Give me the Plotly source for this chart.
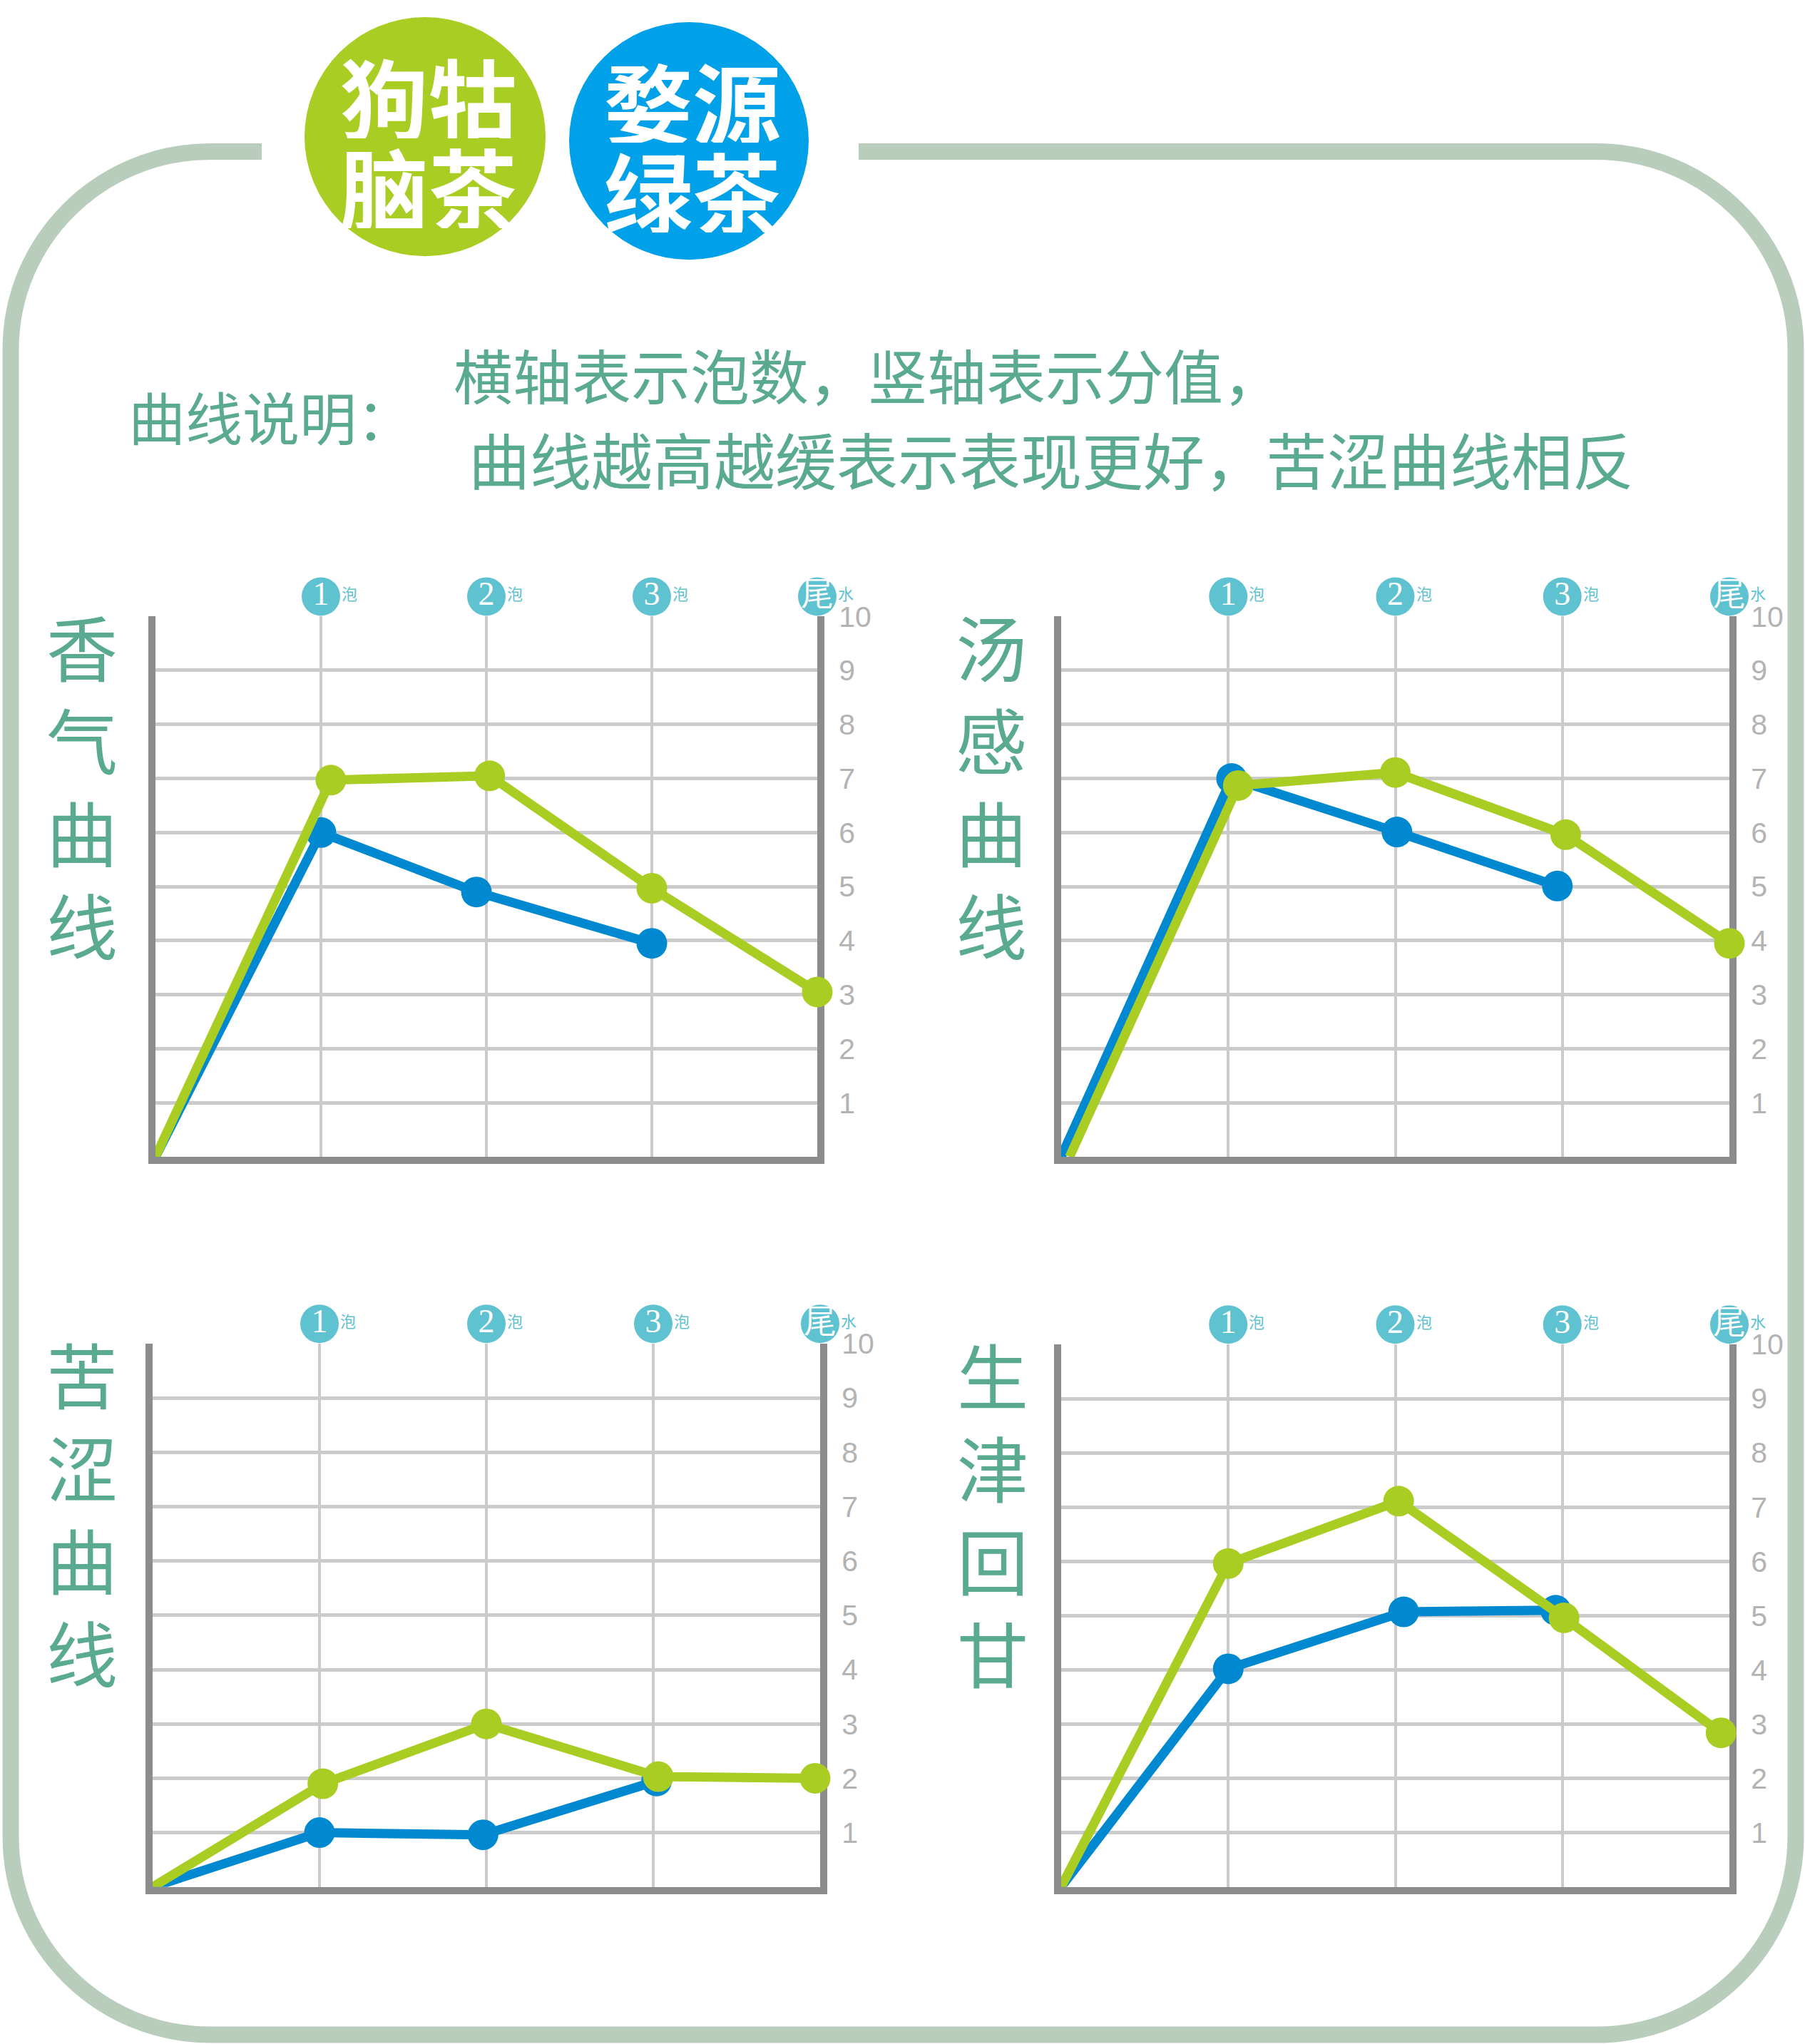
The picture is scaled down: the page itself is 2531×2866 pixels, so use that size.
import plotly.graph_objects as go

W, H = 2531, 2866

BLUE = '#0089d1'
GREEN = '#aacd23'
TEAL = '#5aaa92'
ROUND_BG = '#5fc2d1'
GRID = '#cbcbcb'
AXIS = '#8c8c8c'
BORDER = '#b9cdbd'

# header badges
BADGE_GREEN = ['狗牯', '脑茶']
BADGE_BLUE = ['婺源', '绿茶']

NOTE_LABEL = '曲线说明：'
NOTE_LINES = ['横轴表示泡数，竖轴表示分值，', '曲线越高越缓表示表现更好，苦涩曲线相反']

ROUNDS = ['1', '2', '3', '尾']
ROUND_X = [1, 2, 3, 4]
ROUND_SUFFIX = ['泡', '泡', '泡', '水']
Y_TICKS = [1, 2, 3, 4, 5, 6, 7, 8, 9, 10]

# 香气曲线
AROMA_X_BLUE = [0, 1, 1.94, 3]
AROMA_BLUE = [0, 6.0, 4.9, 3.95]
AROMA_X_GREEN = [0, 1.06, 2.02, 3, 4]
AROMA_GREEN = [0, 6.97, 7.05, 4.97, 3.05]

# 汤感曲线
SOUP_X_BLUE = [0, 1.02, 2.01, 2.97]
SOUP_BLUE = [0, 7.0, 6.01, 5.01]
SOUP_X_GREEN = [0.05, 1.06, 2.0, 3.02, 4]
SOUP_GREEN = [0, 6.87, 7.11, 5.96, 3.95]

# 苦涩曲线
BITTER_X_BLUE = [0, 1, 1.98, 3.02]
BITTER_BLUE = [0, 1.0, 0.96, 1.95]
BITTER_X_GREEN = [0, 1.02, 2.0, 3.03, 3.97]
BITTER_GREEN = [0, 1.9, 3.0, 2.03, 2.0]

# 生津回甘
SWEET_X_BLUE = [0, 1, 2.05, 2.96]
SWEET_BLUE = [0, 4.02, 5.07, 5.1]
SWEET_X_GREEN = [0, 1, 2.02, 3.01, 3.95]
SWEET_GREEN = [0, 5.96, 7.11, 4.96, 2.84]


def px(x):
    return x / W


def py(y):
    return 1 - y / H


# panel boxes in pixels: left, right, top, bottom
panels = [
    dict(title='香气曲线', box=(218, 1146, 848, 1612), title_x=115,
         xb=AROMA_X_BLUE, yb=AROMA_BLUE, xg=AROMA_X_GREEN, yg=AROMA_GREEN),
    dict(title='汤感曲线', box=(1488, 2425, 848, 1612), title_x=1390,
         xb=SOUP_X_BLUE, yb=SOUP_BLUE, xg=SOUP_X_GREEN, yg=SOUP_GREEN),
    dict(title='苦涩曲线', box=(214, 1150, 1876, 2644), title_x=115,
         xb=BITTER_X_BLUE, yb=BITTER_BLUE, xg=BITTER_X_GREEN, yg=BITTER_GREEN),
    dict(title='生津回甘', box=(1488, 2425, 1877, 2644), title_x=1392,
         xb=SWEET_X_BLUE, yb=SWEET_BLUE, xg=SWEET_X_GREEN, yg=SWEET_GREEN),
]

MARK = 43
LW = 13

fig = go.Figure()
annotations = []
shapes = []

for i, p in enumerate(panels):
    n = '' if i == 0 else str(i + 1)
    xa, ya = 'x' + n, 'y' + n
    l, r, t, b = p['box']

    # first point sits on the origin without a dot
    for xs, ys, col in [(p['xb'], p['yb'], BLUE), (p['xg'], p['yg'], GREEN)]:
        fig.add_trace(go.Scatter(
            x=xs, y=ys, xaxis=xa, yaxis=ya,
            mode='lines+markers', line=dict(color=col, width=LW),
            marker=dict(color=col, size=[0] + [MARK] * (len(ys) - 1),
                        opacity=1, line=dict(width=0)),
            cliponaxis=False, hoverinfo='skip'
        ))

    fig.layout['xaxis' + n] = dict(
        domain=[px(l), px(r)], range=[0, 4], anchor=ya,
        tickvals=[1, 2, 3], showticklabels=False, ticks='',
        showgrid=True, gridcolor=GRID, gridwidth=4,
        showline=True, linecolor=AXIS, linewidth=10, zeroline=False,
        layer='below traces'
    )
    fig.layout['yaxis' + n] = dict(
        domain=[py(b), py(t)], range=[0, 10], anchor=xa, side='right',
        tickvals=Y_TICKS, ticktext=[str(v) for v in Y_TICKS], ticks='',
        ticklabelstandoff=12,
        tickfont=dict(size=41, color='#b3b3b3', family='Liberation Sans, Arial, sans-serif'),
        showgrid=True, gridcolor=GRID, gridwidth=5,
        showline=True, mirror=True, linecolor=AXIS, linewidth=10, zeroline=False,
        layer='below traces'
    )

    # strip above the panel holding the round badges (1泡, 2泡, 3泡, 尾水)
    m = str(i + 5)
    sx, sy = 'x' + m, 'y' + m
    fig.add_trace(go.Scatter(
        x=ROUND_X, y=[0.5] * len(ROUND_X), xaxis=sx, yaxis=sy,
        mode='markers+text', text=ROUNDS, textposition='middle center',
        textfont=dict(color='white', size=46, family='Liberation Serif, serif'),
        marker=dict(color=ROUND_BG, size=54, line=dict(width=0)),
        cliponaxis=False, hoverinfo='skip'
    ))
    fig.layout['xaxis' + m] = dict(domain=[px(l), px(r)], range=[0, 4], anchor=sy, visible=False)
    fig.layout['yaxis' + m] = dict(domain=[py(t), py(t - 56)], range=[0, 1], anchor=sx, visible=False)
    for rx, suf in zip(ROUND_X, ROUND_SUFFIX):
        annotations.append(dict(
            x=rx, y=0.5, xref=sx, yref=sy, text=suf, showarrow=False,
            xshift=40, yshift=5, font=dict(size=22, color=ROUND_BG, family='Noto Sans CJK SC')
        ))

    # vertical title
    annotations.append(dict(
        x=px(p['title_x']), y=py(t + 237), xref='paper', yref='paper',
        text='<br>'.join(p['title']), showarrow=False, xanchor='center', yanchor='middle',
        font=dict(size=100, color=TEAL, family='Noto Sans CJK SC')
    ))

# rounded frame with a gap at the top
R = 280
L0, R0, T0, B0 = 15, 2518, 191, 2853
k = 0.5523 * R
pts = [
    ('M', [(367, T0)]),
    ('L', [(L0 + R, T0)]),
    ('C', [(L0 + R - k, T0), (L0, T0 + R - k), (L0, T0 + R)]),
    ('L', [(L0, B0 - R)]),
    ('C', [(L0, B0 - R + k), (L0 + R - k, B0), (L0 + R, B0)]),
    ('L', [(R0 - R, B0)]),
    ('C', [(R0 - R + k, B0), (R0, B0 - R + k), (R0, B0 - R)]),
    ('L', [(R0, T0 + R)]),
    ('C', [(R0, T0 + R - k), (R0 - R + k, T0), (R0 - R, T0)]),
    ('L', [(1204, T0)]),
]
path = ' '.join(cmd + ' ' + ' '.join(f'{px(a):.5f},{py(b):.5f}' for a, b in xy) for cmd, xy in pts)
shapes.append(dict(type='path', path=path, xref='paper', yref='paper',
                   line=dict(color=BORDER, width=23)))

# header badges
for (cx, cy, rad, col, words) in [(596, 170, 169, GREEN, BADGE_GREEN), (966, 176, 168, '#00a1e8', BADGE_BLUE)]:
    shapes.append(dict(type='circle', xref='paper', yref='paper',
                       x0=px(cx - rad), x1=px(cx + rad), y0=py(cy + rad), y1=py(cy - rad),
                       fillcolor=col, line=dict(width=0)))
    for j, w in enumerate(words):
        annotations.append(dict(
            x=px(cx + 5), y=py(cy - 58 + j * 127), xref='paper', yref='paper',
            text='<b>' + w + '</b>', showarrow=False, xanchor='center', yanchor='middle',
            height=120, font=dict(size=124, color='white', family='Noto Sans CJK SC')
        ))

# explanation text
annotations.append(dict(x=px(178), y=py(564), xref='paper', yref='paper', text=NOTE_LABEL,
                        showarrow=False, xanchor='left', yanchor='middle',
                        font=dict(size=80, color=TEAL, family='Noto Sans CJK SC')))
annotations.append(dict(x=px(634), y=py(505), xref='paper', yref='paper', text=NOTE_LINES[0],
                        showarrow=False, xanchor='left', yanchor='middle',
                        font=dict(size=83, color=TEAL, family='Noto Sans CJK SC')))
annotations.append(dict(x=px(655), y=py(625), xref='paper', yref='paper', text=NOTE_LINES[1],
                        showarrow=False, xanchor='left', yanchor='middle',
                        font=dict(size=86, color=TEAL, family='Noto Sans CJK SC')))

fig.update_layout(
    width=W, height=H,
    margin=dict(l=0, r=0, t=0, b=0),
    paper_bgcolor='white', plot_bgcolor='white',
    showlegend=False,
    annotations=annotations,
    shapes=shapes,
)

fig.write_html("out.html", post_script="document.body.style.margin='0';",
               config={'displayModeBar': False})
